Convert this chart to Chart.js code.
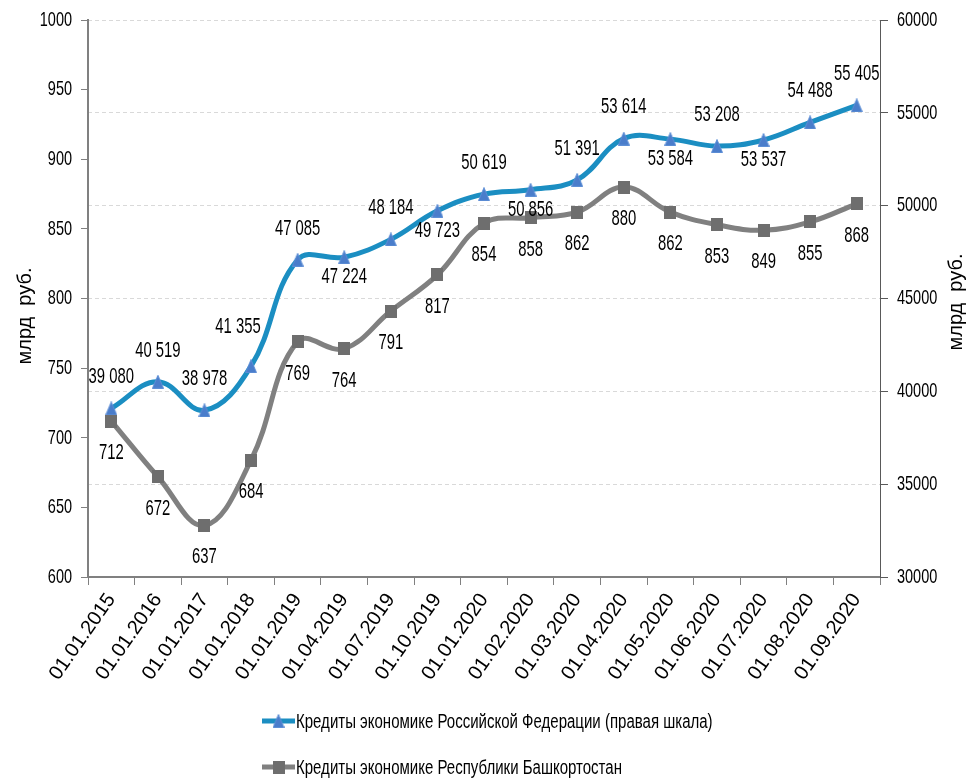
<!DOCTYPE html>
<html><head><meta charset="utf-8">
<script src="https://cdn.jsdelivr.net/npm/chart.js@4.4.0/dist/chart.umd.min.js"></script>
<style>html,body{margin:0;padding:0;background:#fff;overflow:hidden}canvas{display:block}</style>
</head><body>
<canvas id="c" width="968" height="782"></canvas>
<script>
// ---- data ----
const categories = ['01.01.2015','01.01.2016','01.01.2017','01.01.2018','01.01.2019','01.04.2019','01.07.2019','01.10.2019','01.01.2020','01.02.2020','01.03.2020','01.04.2020','01.05.2020','01.06.2020','01.07.2020','01.08.2020','01.09.2020'];
const rfCredits = [39080,40519,38978,41355,47085,47224,48184,49723,50619,50856,51391,53614,53584,53208,53537,54488,55405];
const bashCredits = [712,672,637,684,769,764,791,817,854,858,862,880,862,853,849,855,868];
const rfLabelPlacement = ['a','a','a','al','a','b','a','b','a','b','a','a','b','a','b','a','a'];
const bashLabelPlacement = ['b','b','b','b','b','b','b','b','b','b','b','b','b','b','b','b','b'];
const leftAxisRange = [600, 1000, 50];
const rightAxisRange = [30000, 60000, 5000];
const axisTitle = 'млрд  руб.';
const seriesNames = ['Кредиты экономике Российской Федерации (правая шкала)', 'Кредиты экономике Республики Башкортостан'];

const FONT = '"Liberation Sans", Arial, sans-serif';
const BLUE = '#1B8EC2';
const GRAY = '#808080';

function makeMarker(kind) {
  const c = document.createElement('canvas');
  if (kind === 'triangle') {
    c.width = 12; c.height = 14;
    const x = c.getContext('2d');
    x.beginPath(); x.moveTo(6, 0.5); x.lineTo(11.5, 13.5); x.lineTo(0.5, 13.5); x.closePath();
    x.fillStyle = '#4A7DCB'; x.fill();
    x.strokeStyle = '#5E8FD6'; x.lineWidth = 1; x.stroke();
  } else {
    c.width = 12; c.height = 13;
    const x = c.getContext('2d');
    x.fillStyle = '#6E6E6E'; x.fillRect(0, 0, 12, 13);
  }
  return c;
}
const triMarker = makeMarker('triangle');
const sqMarker = makeMarker('square');

function condText(ctx, text, x, y, size, sx, align, baseline) {
  ctx.save();
  ctx.font = size + 'px ' + FONT;
  ctx.textBaseline = baseline || 'middle';
  ctx.textAlign = 'left';
  ctx.fillStyle = '#000';
  const w = ctx.measureText(text).width * sx;
  const x0 = align === 'right' ? x - w : (align === 'center' ? x - w / 2 : x);
  ctx.translate(x0, y);
  ctx.scale(sx, 1);
  ctx.fillText(text, 0, 0);
  ctx.restore();
}
function fmt(v) { return String(v).replace(/\B(?=(\d{3})+(?!\d))/g, ' '); }

const extras = {
  id: 'extras',
  afterDatasetsDraw(chart) {
    const ctx = chart.ctx;
    // y tick labels (condensed)
    const yL = chart.scales.yL, yR = chart.scales.yR;
    yL.ticks.forEach(t => condText(ctx, String(t.value), yL.right - 16, yL.getPixelForValue(t.value), 21, 0.69, 'right'));
    yR.ticks.forEach(t => condText(ctx, String(t.value), yR.left + 17, yR.getPixelForValue(t.value), 21, 0.69, 'left'));
    // axis titles
    [[25, 316], [956, 302]].forEach(([x, y]) => {
      ctx.save();
      ctx.translate(x, y);
      ctx.rotate(-Math.PI / 2);
      ctx.font = '20px ' + FONT;
      ctx.fillStyle = '#000';
      ctx.textAlign = 'center';
      ctx.textBaseline = 'middle';
      ctx.fillText(axisTitle, 0, 0);
      ctx.restore();
    });
    // data labels
    const rfMeta = chart.getDatasetMeta(0);
    rfMeta.data.forEach((pt, i) => {
      const p = rfLabelPlacement[i];
      let dx = 0, dy = -31;
      if (p === 'b') dy = 20;
      if (p === 'al') { dx = -13; dy = -39; }
      condText(ctx, fmt(rfCredits[i]), pt.x + dx, pt.y + dy, 21.5, 0.69, 'center');
    });
    const bMeta = chart.getDatasetMeta(1);
    bMeta.data.forEach((pt, i) => {
      const dy = bashLabelPlacement[i] === 'b' ? 32 : -31;
      condText(ctx, fmt(bashCredits[i]), pt.x, pt.y + dy, 21.5, 0.69, 'center');
    });
  },
  afterDraw(chart) {
    const ctx = chart.ctx;
    const rows = [721, 767];
    chart.data.datasets.forEach((ds, i) => {
      const y = rows[i];
      ctx.save();
      ctx.strokeStyle = ds.borderColor;
      ctx.lineWidth = 5;
      ctx.beginPath(); ctx.moveTo(262, y); ctx.lineTo(295, y); ctx.stroke();
      const m = ds.pointStyle;
      ctx.drawImage(m, 278.5 - m.width / 2, y - m.height / 2);
      ctx.restore();
      condText(ctx, ds.label, 296, y + 7, 19.5, 0.77, 'left', 'alphabetic');
    });
  }
};

new Chart(document.getElementById('c'), {
  type: 'line',
  data: {
    labels: categories,
    datasets: [
      { label: seriesNames[0], data: rfCredits, yAxisID: 'yR', borderColor: BLUE, backgroundColor: BLUE,
        borderWidth: 5, tension: 0.4, pointStyle: triMarker, pointRadius: 6, fill: false },
      { label: seriesNames[1], data: bashCredits, yAxisID: 'yL', borderColor: GRAY, backgroundColor: GRAY,
        borderWidth: 5, tension: 0.4, pointStyle: sqMarker, pointRadius: 6, fill: false }
    ]
  },
  options: {
    responsive: false,
    animation: false,
    devicePixelRatio: 1,
    layout: { padding: { top: 20, bottom: 80, left: 0, right: 0 } },
    plugins: { legend: { display: false }, tooltip: { enabled: false } },
    scales: {
      x: {
        type: 'category', offset: true,
        grid: { offset: true, drawOnChartArea: false, color: '#808080', tickLength: 8 },
        border: { color: '#808080', width: 2 },
        ticks: { autoSkip: false, minRotation: 55, maxRotation: 55, color: '#000', padding: 4,
                 font: { family: FONT, size: 20 } },
        afterFit(s) { s.height = 125; }
      },
      yL: {
        position: 'left', min: leftAxisRange[0], max: leftAxisRange[1],
        ticks: { stepSize: leftAxisRange[2], display: false },
        grid: { drawOnChartArea: false, tickLength: 7, color: '#808080' },
        border: { color: '#808080', width: 2 },
        afterFit(s) { s.width = 88; }
      },
      yR: {
        position: 'right', min: rightAxisRange[0], max: rightAxisRange[1],
        ticks: { stepSize: rightAxisRange[2], display: false },
        grid: { color: '#D9D9D9', tickColor: '#595959', tickLength: 8, lineWidth: 1 },
        border: { color: '#595959', width: 1, dash: [4, 3] },
        afterFit(s) { s.width = 88; }
      }
    }
  },
  plugins: [extras]
});
</script>
</body></html>
